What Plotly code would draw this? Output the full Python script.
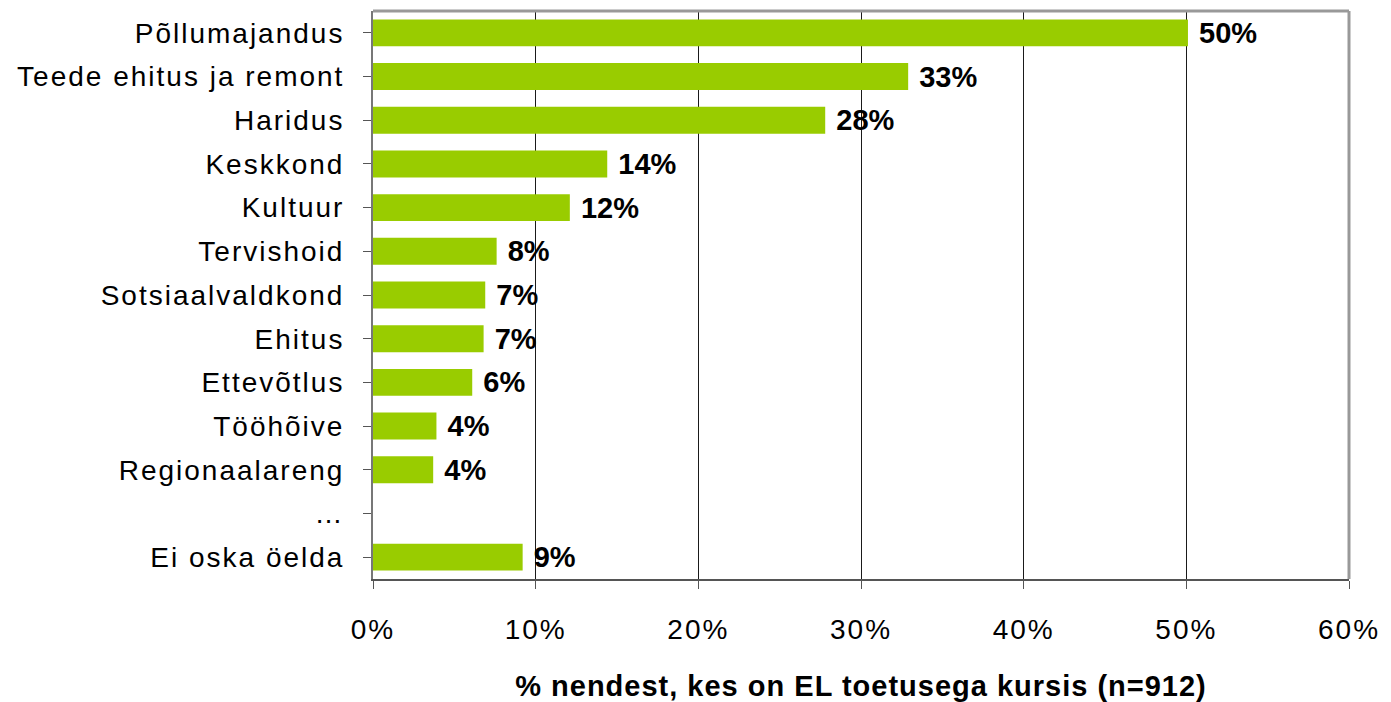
import plotly.graph_objects as go

# categories top -> bottom as in the picture
categories = ["Põllumajandus", "Teede ehitus ja remont", "Haridus", "Keskkond", "Kultuur",
              "Tervishoid", "Sotsiaalvaldkond", "Ehitus", "Ettevõtlus", "Tööhõive",
              "Regionaalareng", "…", "Ei oska öelda"]
values = [50.1, 32.9, 27.8, 14.4, 12.1, 7.6, 6.9, 6.8, 6.1, 3.9, 3.7, None, 9.2]
labels = ["50%", "33%", "28%", "14%", "12%", "8%", "7%", "7%", "6%", "4%", "4%", "", "9%"]

tick_vals = [0, 10, 20, 30, 40, 50, 60]
tick_text = ["0%", "10%", "20%", "30%", "40%", "50%", "60%"]

FONT = "Liberation Sans, Arial, Helvetica"

fig = go.Figure()
fig.add_trace(go.Bar(
    y=categories, x=values, orientation="h",
    marker=dict(color="#99CC00", line=dict(width=0)),
    text=[" " + t if t else "" for t in labels], textposition="outside",
    cliponaxis=False, constraintext="none",
    textfont=dict(family=FONT, size=29, color="black", weight="bold"),
    hoverinfo="skip",
))

# page body has an 8px margin, so the figure is shrunk by that much
fig.update_layout(
    width=1383, height=694,
    margin=dict(l=365, r=42, t=3, b=121),
    paper_bgcolor="white", plot_bgcolor="white",
    bargap=0.384, showlegend=False,
    font=dict(family=FONT, size=28, color="black"),
    xaxis=dict(
        range=[0, 60], tickvals=tick_vals, ticktext=tick_text,
        showgrid=True, gridcolor="#1a1a1a", gridwidth=1,
        zeroline=False, showline=True, linecolor="#555555", linewidth=2,
        ticks="outside", ticklen=8, tickcolor="#555555",
        tickfont=dict(size=28), ticklabelstandoff=16,
        title=dict(text="<b>% nendest, kes on EL toetusega kursis (n=912)</b>",
                   font=dict(size=29), standoff=34),
    ),
    yaxis=dict(
        categoryorder="array", categoryarray=categories[::-1],
        showline=True, linecolor="#777777", linewidth=2,
        ticks="outside", ticklen=8, tickcolor="#555555",
        tickfont=dict(size=28), ticklabelstandoff=13,
        showgrid=False,
    ),
)

# gray frame on top and right
fig.add_shape(type="line", xref="paper", yref="paper", x0=0, x1=1, y0=1, y1=1,
              line=dict(color="#999999", width=3))
fig.add_shape(type="line", xref="paper", yref="paper", x0=1, x1=1, y0=0, y1=1,
              line=dict(color="#999999", width=3))

# wider letter spacing like the original
css = ("<style>.ytick text{letter-spacing:2px}.xtick text{letter-spacing:2px}"
       ".xtitle{letter-spacing:1px}.textpoint text{letter-spacing:1.5px}</style>")
post = "document.head.insertAdjacentHTML('beforeend', '%s');" % css

fig.write_html("out.html", post_script=post)
